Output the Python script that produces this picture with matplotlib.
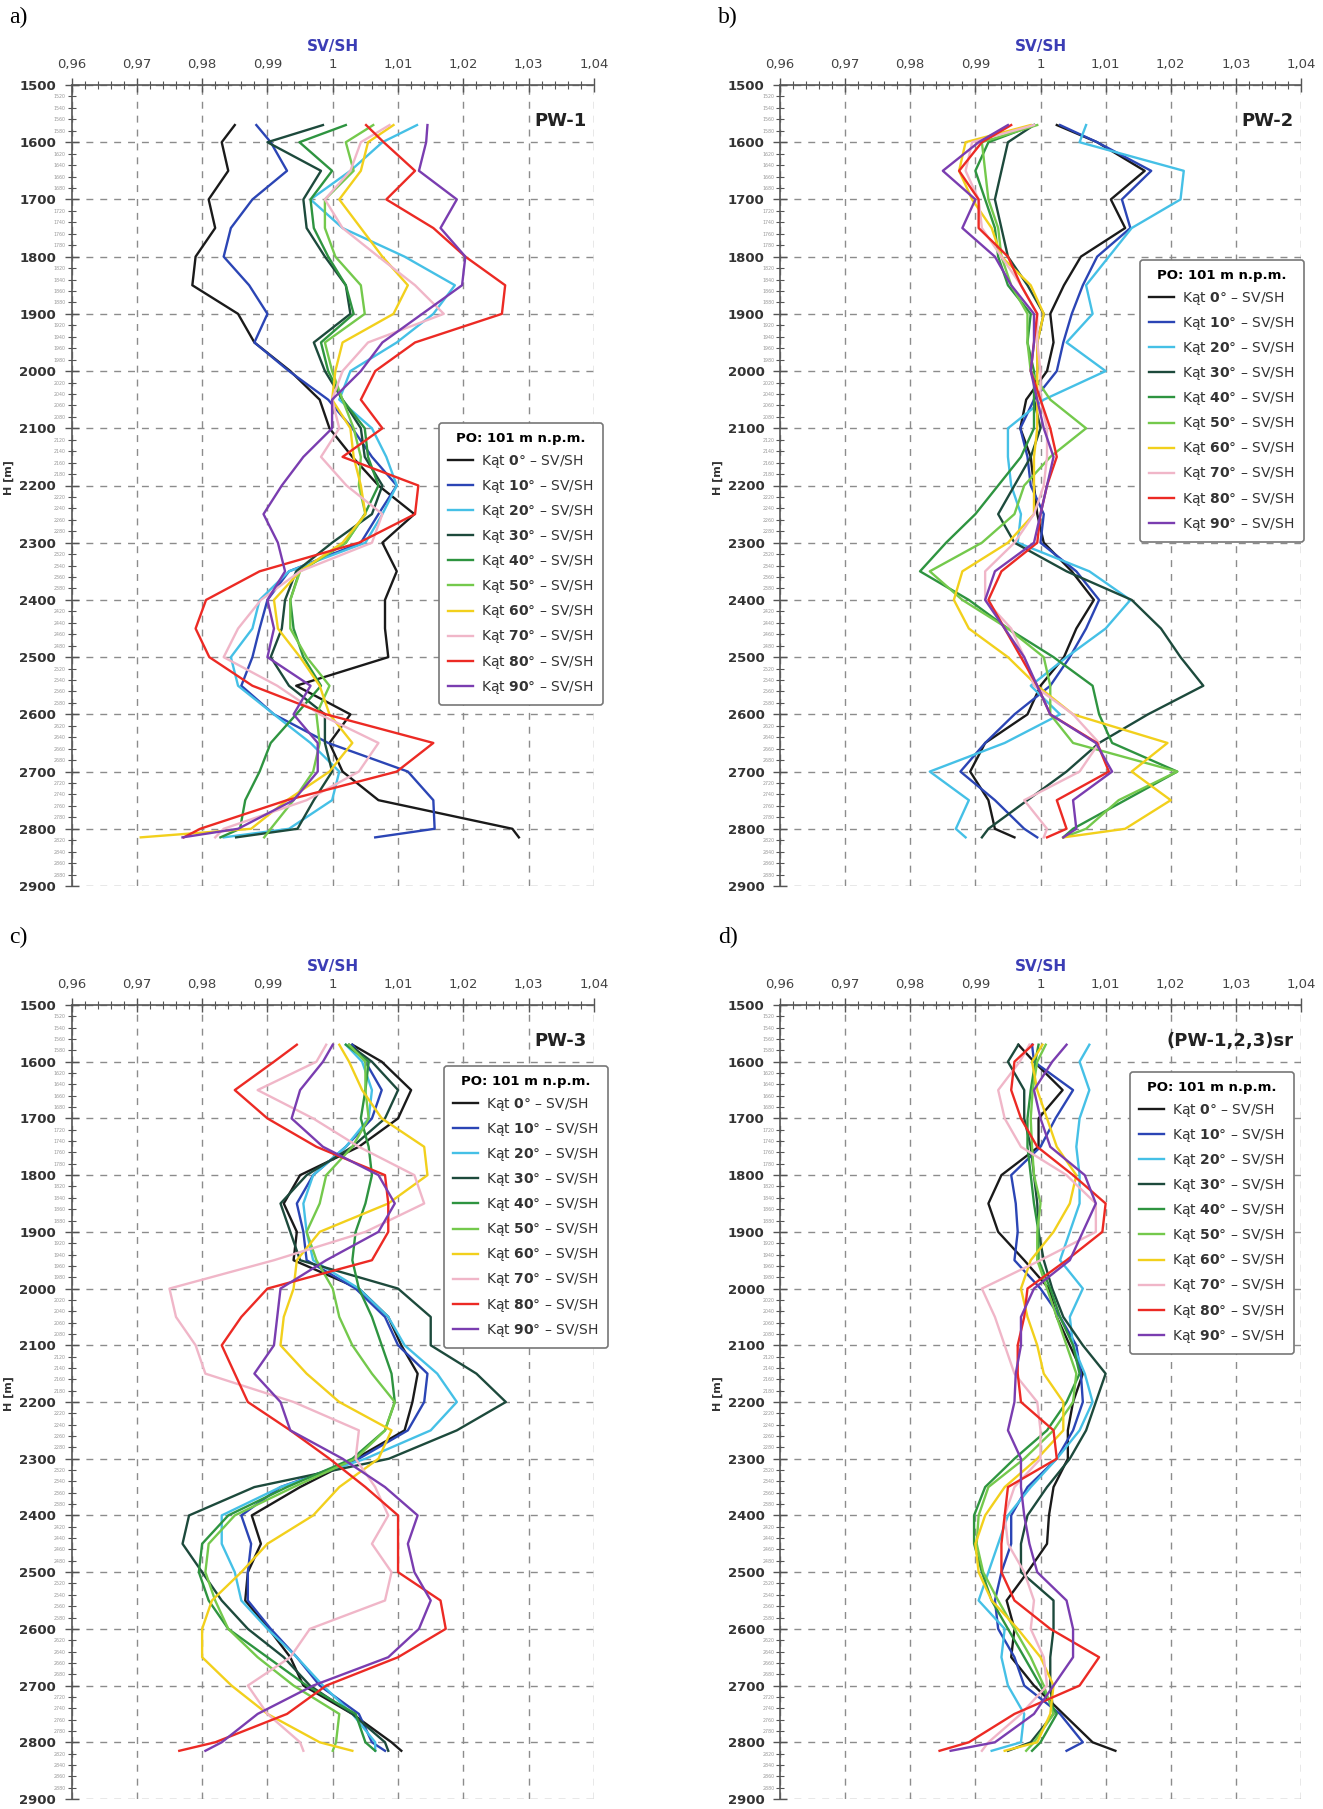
import matplotlib
matplotlib.use("Agg")
import matplotlib.pyplot as plt
from matplotlib.ticker import MultipleLocator, FuncFormatter

# depth of the readings [m]
depth = [1570, 1600, 1650, 1700, 1750, 1800, 1850, 1900, 1950, 2000, 2050, 2100, 2150, 2200,
         2250, 2300, 2350, 2400, 2450, 2500, 2550, 2600, 2650, 2700, 2750, 2800, 2815]

angles = [0, 10, 20, 30, 40, 50, 60, 70, 80, 90]
colors = ["#1a1a1a", "#2b45b5", "#45c0e6", "#1d4a3c", "#2e9440",
          "#74c94c", "#f2d01c", "#f0b6c8", "#ec2a24", "#7a3db0"]

# PW-1
pw1_0 = [0.985, 0.983, 0.984, 0.981, 0.982, 0.979, 0.9785, 0.9855, 0.988, 0.9935, 0.998, 0.9995, 1.003, 1.007,
         1.0125, 1.0076, 1.0098, 1.008, 1.008, 1.0085, 0.9944, 1.0027, 0.9995, 1.0015, 1.007, 1.0275, 1.0285]
pw1_10 = [0.9883, 0.9905, 0.993, 0.9877, 0.9844, 0.9833, 0.9872, 0.990, 0.988, 0.9933, 0.9993, 1.003, 1.006, 1.0098,
          1.007, 1.0043, 0.9933, 0.990, 0.9888, 0.9877, 0.986, 0.991, 0.9993, 1.0115, 1.0154, 1.0156, 1.0065]
pw1_20 = [1.0129, 1.0076, 1.0027, 0.9966, 1.0015, 1.011, 1.0187, 1.0154, 1.0098, 1.0027, 1.001, 1.006, 1.0082, 1.0098,
          1.0076, 1.005, 0.9933, 0.9888, 0.9877, 0.9844, 0.9855, 0.991, 0.9966, 1.001, 0.9999, 0.9933, 0.9833]
pw1_30 = [0.9985, 0.990, 0.9982, 0.9955, 0.996, 0.9988, 1.002, 1.0027, 0.9971, 0.9988, 1.0015, 1.0043, 1.0049, 1.0076,
          1.006, 0.9999, 0.9944, 0.9927, 0.9922, 0.9905, 0.9933, 0.9988, 0.9988, 0.9999, 0.9971, 0.9946, 0.9852]
pw1_40 = [1.002, 0.9949, 0.9999, 0.9966, 0.9971, 0.9993, 1.002, 1.0032, 0.9982, 0.9993, 1.0015, 1.0049, 1.0054, 1.007,
          1.0049, 1.002, 0.9949, 0.9935, 0.994, 0.9955, 0.9982, 0.9944, 0.9905, 0.9888, 0.9866, 0.9858, 0.9828]
pw1_50 = [1.0062, 1.002, 1.0032, 0.9988, 0.9988, 1.0004, 1.0043, 1.0049, 0.9988, 0.9999, 1.0015, 1.0032, 1.0043, 1.004,
          1.005, 1.002, 0.995, 0.9935, 0.9935, 0.996, 0.9995, 0.9975, 0.998, 0.997, 0.994, 0.9905, 0.9895]
pw1_60 = [1.0093, 1.0054, 1.0043, 1.001, 1.0043, 1.0076, 1.0115, 1.0093, 1.0015, 1.0004, 0.9999, 1.0027, 1.0032, 1.0043,
          1.005, 1.0015, 0.995, 0.991, 0.9916, 0.995, 0.998, 0.9995, 1.003, 0.9995, 0.993, 0.9875, 0.9706]
pw1_70 = [1.0087, 1.0043, 1.0027, 0.9988, 1.0015, 1.007, 1.0126, 1.017, 1.0054, 1.0015, 0.9999, 1.001, 0.9982, 1.0021,
          1.0076, 1.006, 0.995, 0.989, 0.9855, 0.9833, 0.9915, 0.998, 1.007, 1.004, 0.996, 0.9833, 0.982]
pw1_80 = [1.0051, 1.0078, 1.0126, 1.0082, 1.0154, 1.0203, 1.0264, 1.0259, 1.0126, 1.0065, 1.0043, 1.0076, 1.0015, 1.0131,
          1.0126, 1.004, 0.9888, 0.9806, 0.979, 0.9811, 0.9877, 0.999, 1.0154, 1.0098, 0.993, 0.9797, 0.9772]
pw1_90 = [1.0145, 1.0143, 1.0132, 1.019, 1.0165, 1.0203, 1.0198, 1.0137, 1.0076, 1.0043, 0.9999, 0.9999, 0.9955, 0.9922,
          0.9894, 0.9916, 0.9927, 0.990, 0.991, 0.990, 0.9966, 0.994, 0.9977, 0.9977, 0.994, 0.9855, 0.977]

# PW-2
pw2_0 = [1.0025, 1.0087, 1.016, 1.0108, 1.013, 1.0062, 1.0036, 1.0015, 1.002, 1.001, 0.9978, 0.9969, 0.9985, 0.999,
         0.9995, 1.0005, 1.0048, 1.0082, 1.0055, 1.0036, 1.0, 0.998, 0.9915, 0.9892, 0.992, 0.993, 0.996]
pw2_10 = [1.003, 1.0087, 1.017, 1.0125, 1.0138, 1.0087, 1.0065, 1.0048, 1.0035, 1.0025, 0.999, 0.9969, 0.998, 0.9985,
          1.0005, 1.0, 1.0055, 1.009, 1.007, 1.0045, 1.0015, 0.996, 0.9915, 0.9877, 0.993, 0.9975, 0.9995]
pw2_20 = [1.007, 1.006, 1.022, 1.0215, 1.014, 1.0105, 1.007, 1.008, 1.004, 1.01, 1.0005, 0.995, 0.995, 0.9955,
          0.997, 0.9965, 1.0075, 1.0138, 1.01, 1.004, 0.9985, 1.003, 0.9945, 0.983, 0.989, 0.987, 0.9885]
pw2_30 = [0.999, 0.995, 0.994, 0.993, 0.994, 0.995, 0.998, 1.0005, 0.9995, 0.9995, 0.999, 1.0, 0.9985, 0.996,
          0.9935, 0.996, 1.004, 1.014, 1.0185, 1.0215, 1.025, 1.0165, 1.009, 1.004, 0.998, 0.992, 0.991]
pw2_40 = [0.999, 0.992, 0.990, 0.9915, 0.993, 0.9935, 0.995, 0.9985, 0.998, 0.999, 0.999, 0.999, 0.997, 0.9935,
          0.990, 0.9855, 0.9815, 0.989, 0.995, 1.002, 1.008, 1.009, 1.011, 1.021, 1.013, 1.005, 1.0035]
pw2_50 = [0.9995, 0.991, 0.9915, 0.992, 0.9935, 0.994, 0.9955, 0.998, 0.998, 0.9985, 1.0015, 1.007, 1.0015, 0.9975,
          0.996, 0.991, 0.983, 0.988, 0.995, 1.0005, 1.0015, 1.0015, 1.005, 1.021, 1.012, 1.007, 1.0035]
pw2_60 = [0.9985, 0.9885, 0.9875, 0.9895, 0.9925, 0.994, 0.9985, 1.0005, 0.9995, 0.9995, 0.9995, 0.9995, 0.999, 0.999,
          0.999, 0.995, 0.988, 0.9867, 0.989, 0.995, 0.9995, 1.005, 1.0195, 1.014, 1.020, 1.013, 1.0035]
pw2_70 = [0.999, 0.9895, 0.9885, 0.9905, 0.991, 0.994, 0.997, 0.9995, 0.9995, 1.0, 1.0, 1.001, 1.001, 1.0005,
          0.999, 0.996, 0.9915, 0.9915, 0.9955, 0.9975, 0.999, 1.005, 1.009, 1.006, 0.9975, 1.001, 1.0005]
pw2_80 = [0.9955, 0.991, 0.9875, 0.9905, 0.9905, 0.995, 0.997, 0.9995, 0.999, 0.9985, 1.0, 1.0015, 1.0025, 1.001,
          1.0, 0.9995, 0.994, 0.992, 0.9945, 0.997, 0.9995, 1.0015, 1.0087, 1.0105, 1.0025, 1.004, 1.001]
pw2_90 = [0.995, 0.9905, 0.985, 0.990, 0.988, 0.993, 0.9955, 0.999, 0.999, 0.9985, 0.9995, 1.0005, 1.002, 1.001,
          1.0, 0.999, 0.993, 0.9915, 0.9945, 0.9975, 0.9995, 1.0015, 1.0085, 1.011, 1.005, 1.0055, 1.0035]

# PW-3
pw3_0 = [1.003, 1.0075, 1.012, 1.010, 1.004, 0.995, 0.9925, 0.9945, 0.994, 1.004, 1.0085, 1.0105, 1.013, 1.0122,
         1.011, 1.0035, 0.995, 0.9876, 0.989, 0.987, 0.9866, 0.9902, 0.9935, 0.9955, 1.003, 1.009, 1.0105]
pw3_10 = [1.003, 1.005, 1.0075, 1.006, 1.002, 0.997, 0.9945, 0.9955, 0.996, 1.0035, 1.008, 1.010, 1.0145, 1.014,
          1.0115, 1.004, 0.992, 0.986, 0.9875, 0.987, 0.987, 0.9905, 0.9945, 0.998, 1.004, 1.006, 1.008]
pw3_20 = [1.002, 1.0045, 1.006, 1.0055, 1.002, 0.997, 0.9955, 0.996, 0.997, 1.004, 1.0085, 1.011, 1.016, 1.019,
          1.015, 1.005, 0.992, 0.983, 0.983, 0.985, 0.986, 0.990, 0.9945, 0.9985, 1.003, 1.0065, 1.0065]
pw3_30 = [1.0025, 1.006, 1.010, 1.008, 1.003, 0.996, 0.992, 0.9935, 0.995, 1.010, 1.015, 1.015, 1.022, 1.0265,
          1.019, 1.0086, 0.988, 0.978, 0.977, 0.980, 0.983, 0.987, 0.9925, 0.9965, 1.003, 1.008, 1.0085]
pw3_40 = [1.002, 1.0055, 1.005, 1.0043, 1.0055, 1.006, 1.005, 1.0035, 1.003, 1.004, 1.006, 1.0075, 1.009, 1.0095,
          1.008, 1.003, 0.993, 0.984, 0.980, 0.9795, 0.981, 0.984, 0.990, 0.996, 1.0035, 1.005, 1.0065]
pw3_50 = [1.0025, 1.005, 1.005, 1.0055, 1.003, 0.999, 0.998, 0.996, 0.9975, 1.0, 1.001, 1.003, 1.006, 1.0095,
          1.008, 1.0035, 0.994, 0.985, 0.981, 0.9805, 0.982, 0.984, 0.9885, 0.994, 1.001, 1.0005, 1.0]
pw3_60 = [1.001, 1.0025, 1.0045, 1.0075, 1.014, 1.0145, 1.0085, 0.998, 0.9945, 0.994, 0.9925, 0.992, 0.996, 1.001,
          1.009, 1.007, 1.001, 0.997, 0.990, 0.986, 0.9815, 0.980, 0.980, 0.9845, 0.990, 0.998, 1.003]
pw3_70 = [0.999, 0.9975, 0.9885, 0.997, 1.004, 1.0125, 1.014, 1.005, 0.991, 0.975, 0.976, 0.979, 0.9805, 0.994,
          1.004, 1.0035, 1.0065, 1.0085, 1.006, 1.009, 1.008, 0.9965, 0.9935, 0.987, 0.990, 0.995, 0.9955]
pw3_80 = [0.9945, 0.991, 0.985, 0.990, 0.9975, 1.008, 1.0085, 1.0085, 1.006, 0.990, 0.986, 0.983, 0.985, 0.987,
          0.9935, 0.9995, 1.005, 1.010, 1.010, 1.010, 1.0165, 1.0173, 1.010, 0.999, 0.993, 0.982, 0.9765]
pw3_90 = [1.0, 0.9985, 0.995, 0.9937, 0.9985, 1.007, 1.0095, 1.007, 0.999, 0.992, 0.9915, 0.991, 0.988, 0.992,
          0.9935, 1.0015, 1.008, 1.013, 1.0115, 1.0125, 1.015, 1.0132, 1.0085, 0.997, 0.9885, 0.983, 0.9805]

# (PW-1,2,3) average
pws_0 = [0.9966, 0.999, 1.0034, 0.9997, 0.9997, 0.994, 0.992, 0.9935, 0.9975, 1.0013, 1.0025, 1.0045, 1.0065, 1.005,
         1.0042, 1.0042, 1.002, 1.0013, 1.001, 0.998, 0.9948, 0.996, 0.9955, 0.999, 1.0035, 1.008, 1.0115]
pws_10 = [0.9987, 0.999, 1.005, 1.0023, 1.0, 0.9955, 0.9962, 0.9965, 0.996, 1.0, 1.003, 1.0055, 1.0062, 1.0065,
          1.005, 1.0025, 0.998, 0.9955, 0.9955, 0.994, 0.993, 0.9935, 0.996, 0.9975, 1.003, 1.0065, 1.004]
pws_20 = [1.0075, 1.006, 1.0075, 1.006, 1.0055, 1.006, 1.006, 1.0045, 1.003, 1.0065, 1.0045, 1.005, 1.0068, 1.008,
          1.006, 1.0025, 0.9985, 0.995, 0.9935, 0.992, 0.9905, 0.9945, 0.994, 0.995, 0.9975, 0.997, 0.9925]
pws_30 = [0.9966, 0.995, 0.9975, 0.9975, 0.9985, 0.999, 0.9995, 0.9997, 1.0005, 1.0018, 1.0035, 1.0065, 1.010, 1.0085,
          1.007, 1.0045, 1.001, 0.998, 0.997, 0.997, 1.002, 1.002, 1.0015, 1.0015, 1.002, 0.9985, 0.995]
pws_40 = [0.9997, 0.9992, 0.9985, 0.998, 0.998, 0.9985, 0.999, 0.9997, 0.9997, 1.0015, 1.003, 1.005, 1.006, 1.004,
          1.001, 0.996, 0.9915, 0.9898, 0.9898, 0.991, 0.9925, 0.995, 0.9975, 1.0, 1.0025, 1.0, 0.9987]
pws_50 = [1.0008, 0.9995, 0.9988, 0.9985, 0.9987, 0.999, 1.0, 0.9995, 0.9995, 1.001, 1.0025, 1.004, 1.0055, 1.005,
          1.002, 0.9975, 0.992, 0.9905, 0.9902, 0.9912, 0.9935, 0.996, 0.9985, 1.0005, 1.002, 0.999, 0.9978]
pws_60 = [1.0003, 0.9987, 0.9995, 1.001, 1.0025, 1.0055, 1.0045, 1.002, 0.9985, 0.997, 0.998, 0.9995, 1.0005, 1.0035,
          1.0035, 0.9995, 0.9945, 0.9915, 0.990, 0.9905, 0.9925, 0.9965, 1.0, 1.002, 1.0015, 0.9995, 0.9945]
pws_70 = [0.9983, 0.9968, 0.9935, 0.9945, 0.997, 1.004, 1.0085, 1.0085, 1.0, 0.991, 0.993, 0.9945, 0.996, 0.9995,
          1.0, 1.0, 0.996, 0.9945, 0.995, 0.9975, 0.999, 0.9985, 1.0005, 1.001, 0.997, 0.992, 0.991]
pws_80 = [0.9988, 0.996, 0.9955, 0.997, 0.9995, 1.005, 1.010, 1.0095, 1.004, 0.998, 0.9975, 0.9965, 0.9965, 0.997,
          1.002, 1.0025, 0.995, 0.9945, 0.994, 0.994, 0.996, 1.0015, 1.009, 1.006, 0.996, 0.989, 0.9845]
pws_90 = [1.004, 1.0018, 0.999, 1.0, 1.0015, 1.0068, 1.0085, 1.0065, 1.0045, 0.999, 0.997, 0.997, 0.9962, 0.996,
          0.995, 0.997, 0.997, 0.9975, 0.9983, 0.9995, 1.004, 1.005, 1.005, 1.002, 0.999, 0.993, 0.9862]

W, H = 1323, 1809

# letter, well name, series, axes box [px: left, top, right, bottom], legend corner [px]
panels = [
    ("a)", "PW-1", [pw1_0, pw1_10, pw1_20, pw1_30, pw1_40, pw1_50, pw1_60, pw1_70, pw1_80, pw1_90],
     (71.5, 85, 594, 886), (439, 423)),
    ("b)", "PW-2", [pw2_0, pw2_10, pw2_20, pw2_30, pw2_40, pw2_50, pw2_60, pw2_70, pw2_80, pw2_90],
     (780, 85, 1301, 886), (1140, 260)),
    ("c)", "PW-3", [pw3_0, pw3_10, pw3_20, pw3_30, pw3_40, pw3_50, pw3_60, pw3_70, pw3_80, pw3_90],
     (71.5, 1005, 594, 1799), (444, 1066)),
    ("d)", "(PW-1,2,3)sr", [pws_0, pws_10, pws_20, pws_30, pws_40, pws_50, pws_60, pws_70, pws_80, pws_90],
     (780, 1005, 1301, 1799), (1130, 1072)),
]


def xfmt(v, pos):
    s = f"{v:.2f}".rstrip("0").rstrip(".")
    return s.replace(".", ",")


def minor_fmt(v, pos):
    if round(v) % 100 == 0:
        return ""
    return str(int(round(v)))


fig = plt.figure(figsize=(W / 100, H / 100), dpi=100)

for letter, name, series, (l, t, r, b), (lx, ly) in panels:
    ax = fig.add_axes([l / W, 1 - b / H, (r - l) / W, (b - t) / H])

    for ang, col, vals in zip(angles, colors, series):
        ax.plot(vals, depth, color=col, lw=1.7,
                label="Kąt $\\mathbf{%d}$° – SV/SH" % ang)

    ax.set_xlim(0.96, 1.04)
    ax.set_ylim(2900, 1500)

    ax.xaxis.set_major_locator(MultipleLocator(0.01))
    ax.xaxis.set_minor_locator(MultipleLocator(0.002))
    ax.xaxis.set_major_formatter(FuncFormatter(xfmt))
    ax.yaxis.set_major_locator(MultipleLocator(100))
    ax.yaxis.set_minor_locator(MultipleLocator(20))
    ax.yaxis.set_minor_formatter(FuncFormatter(minor_fmt))

    ax.xaxis.tick_top()
    ax.xaxis.set_label_position("top")
    ax.tick_params(axis="x", which="major", direction="inout", length=10, width=1,
                   color="#555555", labelsize=9.5, labelcolor="#444444", pad=5)
    ax.tick_params(axis="x", which="minor", direction="inout", length=6, width=0.8,
                   color="#555555")
    ax.tick_params(axis="y", which="major", direction="inout", length=10, width=1,
                   color="#555555", labelsize=9.5, labelcolor="#333333", pad=6)
    ax.tick_params(axis="y", which="minor", direction="inout", length=6, width=0.8,
                   color="#555555", labelsize=3.4, labelcolor="#999999", pad=1)
    for lab in ax.get_yticklabels():
        lab.set_fontweight("bold")

    for side in ("right", "bottom"):
        ax.spines[side].set_visible(False)
    for side in ("left", "top"):
        ax.spines[side].set_color("#555555")
        ax.spines[side].set_linewidth(1.2)

    ax.grid(True, which="major", linestyle=(0, (5, 5)), color="#8c8c8c", lw=1.0)
    ax.set_axisbelow(True)

    ax.set_xlabel("SV/SH", color="#3b3db5", fontsize=11, fontweight="bold", labelpad=5)
    ax.set_ylabel("H [m]", fontsize=8, fontweight="bold", color="#333333")
    ax.yaxis.set_label_coords(-0.11, 0.51)

    ax.text(0.985, 0.955, name, transform=ax.transAxes, ha="right", va="center",
            fontsize=13, fontweight="bold", color="#222222")

    leg = ax.legend(loc="upper left", bbox_to_anchor=(lx / W, 1 - ly / H),
                    bbox_transform=fig.transFigure, borderaxespad=0,
                    title="PO: 101 m n.p.m.", fontsize=10, labelspacing=0.58,
                    handlelength=1.8, handletextpad=0.6, borderpad=0.65,
                    fancybox=True, framealpha=1, edgecolor="#777777")
    leg.get_title().set_fontweight("bold")
    leg.get_title().set_fontsize(9.5)
    leg.get_frame().set_linewidth(1.2)
    for txt in leg.get_texts():
        txt.set_color("#333333")

    fig.text((l - 62) / W, 1 - (t - 68) / H, letter, fontsize=17,
             family="Liberation Serif", ha="left", va="center")

fig.savefig("out.png", dpi=100, facecolor="white")
